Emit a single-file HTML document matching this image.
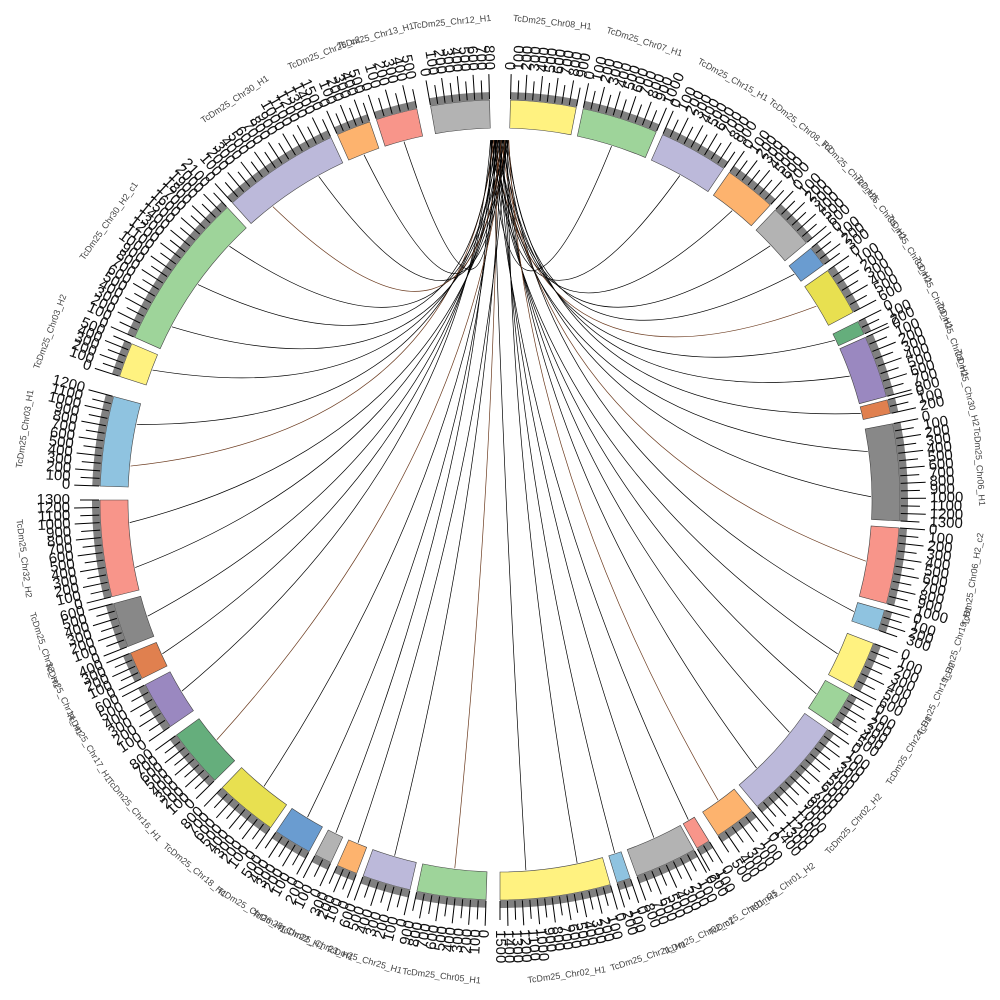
<!DOCTYPE html>
<html><head><meta charset="utf-8"><style>
html,body{margin:0;padding:0;background:#fff;width:1000px;height:1000px;overflow:hidden}
svg{display:block;font-family:"Liberation Sans",sans-serif}
</style></head><body>
<svg id="s" width="1000" height="1000" viewBox="0 0 1000 1000" xmlns="http://www.w3.org/2000/svg"></svg>
<script>
var S=document.getElementById('s'),cx=500,cy=500,h='';
var segs=[
[1.5,11,'#fff280','TcDm25_Chr08_H1'],[12,23,'#9ed49a','TcDm25_Chr07_H1'],[24,34,'#bcb9da','TcDm25_Chr15_H1'],
[35,42.5,'#fdb36e','TcDm25_Chr08_H2'],[43.5,50,'#b3b3b3','TcDm25_Chr27_H1'],[51,54,'#6a9cd0','TcDm25_Chr35_H1'],
[55,62,'#e8e050','TcDm25_Chr33_H1'],[63.5,65.5,'#65ae7c','TcDm25_Chr29_H1'],[66,75,'#9a88c0','TcDm25_Chr28_H1'],
[75.5,77.5,'#e0804f','TcDm25_Chr30_H2'],[79,93,'#888888','TcDm25_Chr06_H1'],[94,105,'#f8958a','TcDm25_Chr06_H2_c2'],
[106,109,'#8fc3e0','TcDm25_Chr19_H1'],[111,118,'#fff280','TcDm25_Chr19_H2'],[119,124,'#9ed49a','TcDm25_Chr24_H1'],
[125,140,'#bcb9da','TcDm25_Chr02_H2'],[141,147,'#fdb36e','TcDm25_Chr01_H2'],[148.5,150.5,'#f8958a','TcDm25_Chr01_H1'],
[151,160,'#b3b3b3','TcDm25_Chr02_c1'],[161,163,'#8fc3e0','TcDm25_Chr21_H1'],[164,180,'#fff280','TcDm25_Chr02_H1'],
[182,192,'#9ed49a','TcDm25_Chr05_H1'],[193,200,'#bcb9da','TcDm25_Chr25_H1'],[201,204,'#fdb36e','TcDm25_Chr23_H1'],
[205,207.5,'#b3b3b3','TcDm25_Chr22_H1'],[208.5,214,'#6a9cd0','TcDm25_Chr26_H1'],[215,224,'#e8e050','TcDm25_Chr18_H1'],
[225.5,234,'#65ae7c','TcDm25_Chr16_H1'],[235.5,242.5,'#9a88c0','TcDm25_Chr17_H1'],[243.5,247.5,'#e0804f','TcDm25_Chr14_H1'],
[248.5,255,'#888888','TcDm25_Chr32_H1'],[256,270,'#f8958a','TcDm25_Chr32_H2'],[272,285,'#8fc3e0','TcDm25_Chr03_H1'],
[288,293,'#fff280','TcDm25_Chr03_H2'],[294,317,'#9ed49a','TcDm25_Chr30_H2_c1'],[318,335,'#bcb9da','TcDm25_Chr30_H1'],
[336,341,'#fdb36e','TcDm25_Chr25_c2'],[342,348,'#f8958a','TcDm25_Chr13_H1'],[350,358.5,'#b3b3b3','TcDm25_Chr12_H1']];
function P(a,r){var t=a*Math.PI/180;return [cx+r*Math.sin(t),cy-r*Math.cos(t)];}
function arc(a1,a2,r1,r2,f,st){var p1=P(a1,r2),p2=P(a2,r2),p3=P(a2,r1),p4=P(a1,r1),l=(a2-a1)>180?1:0;
return '<path d="M'+p1+' A'+r2+' '+r2+' 0 '+l+' 1 '+p2+' L'+p3+' A'+r1+' '+r1+' 0 '+l+' 0 '+p4+'Z" fill="'+f+'" stroke="'+st+'" stroke-width="0.6"/>';}
var k=0;
segs.forEach(function(s,i){
 var n=Math.max(1,Math.round((s[1]-s[0])/8));
 for(var j=0;j<n;j++){var a=s[0]+(s[1]-s[0])*(j+0.5)/n;if(a<14||a>346)continue;var b=-1.5+((k*37)%30)/10;k++;
 var p=P(a,371),q=P(b,360);
 var c=[cx+(p[0]+q[0]-2*cx)*0.1,cy+(p[1]+q[1]-2*cy)*0.1-30];
 h+='<path d="M'+p+' Q'+c+' '+q+'" fill="none" stroke="'+(k%6==0?'#6b3a1e':'#000')+'" stroke-width="0.7"/>';}
});
segs.forEach(function(s){
 h+=arc(s[0],s[1],372,400,s[2],'#444');
 h+=arc(s[0],s[1],400,408,'#808080','none');
 var n=Math.max(2,Math.round((s[1]-s[0])/1.1));
 for(var j=0;j<=n;j++){var a=s[0]+(s[1]-s[0])*j/n,p=P(a,401),q=P(a,(j%2?420:426));
  h+='<line x1="'+p[0]+'" y1="'+p[1]+'" x2="'+q[0]+'" y2="'+q[1]+'" stroke="#000" stroke-width="1"/>';
  var t=P(a,430),rot=a-90;var fl=(a>180);var tr=fl?rot+180:rot;
   h+='<text x="'+t[0]+'" y="'+t[1]+'" font-size="15" fill="#111" text-anchor="'+(fl?'end':'start')+'" dominant-baseline="middle" transform="rotate('+tr+' '+t[0]+' '+t[1]+')">'+(j*100)+'</text>';
 }
 var m=(s[0]+s[1])/2,t=P(m,480);var rr=m,fl=(m>90&&m<270);if(fl)rr+=180;
 h+='<text x="'+t[0]+'" y="'+t[1]+'" font-size="9" fill="#444" text-anchor="middle" dominant-baseline="middle" transform="rotate('+rr+' '+t[0]+' '+t[1]+')">'+s[3]+'</text>';
});
S.innerHTML=h;
</script>
</body></html>
